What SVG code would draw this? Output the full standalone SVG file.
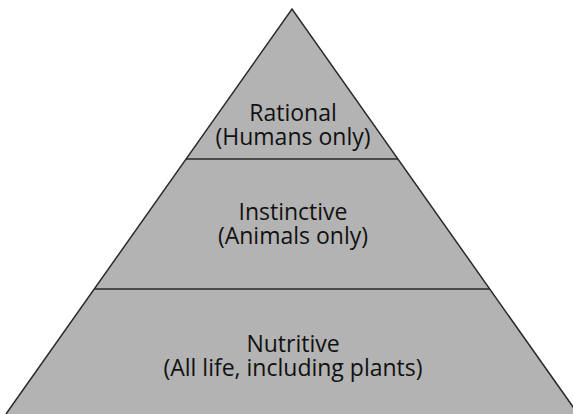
<svg xmlns="http://www.w3.org/2000/svg" width="573" height="414" viewBox="0 0 573 414">
<style>
.lbl{font-family:"Open Sans","Noto Sans",sans-serif;font-size:23px;fill:#111;text-anchor:middle}
.edge{stroke:#2a2a2a;stroke-width:1.5;fill:none}
</style>
<rect width="573" height="414" fill="#fff"/>
<g id="pyramid">
<polygon points="292,9 6,414 578,414" fill="#b3b3b3"/>
<path class="edge" d="M6,414 L292,9 L578,414"/>
</g>
<g id="connectors">
<line class="edge" x1="186" y1="159" x2="398" y2="159"/>
<line class="edge" x1="94" y1="289" x2="490" y2="289"/>
</g>
<g id="rational">
<text class="lbl" x="293" y="121">Rational</text>
<text class="lbl" x="293" y="145">(Humans only)</text>
</g>
<g id="instinctive">
<text class="lbl" x="293" y="220">Instinctive</text>
<text class="lbl" x="293" y="244">(Animals only)</text>
</g>
<g id="nutritive">
<text class="lbl" x="293" y="352">Nutritive</text>
<text class="lbl" x="293" y="376">(All life, including plants)</text>
</g>
</svg>
